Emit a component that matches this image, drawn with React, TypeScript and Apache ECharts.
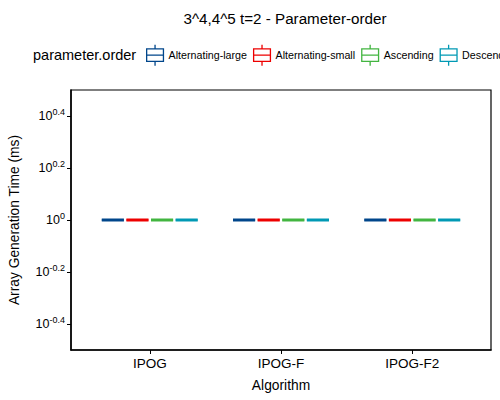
import { useEffect, useRef } from 'react';
import * as echarts from 'echarts';

const algorithms = ['IPOG', 'IPOG-F', 'IPOG-F2'];
const orders = ['Alternating-large', 'Alternating-small', 'Ascending', 'Descending'];
const colors = ['#00468B', '#ED0000', '#42B540', '#0099B4'];

// generation time in ms per order: [min, q1, median, q3, max] for each algorithm
const altLarge = [[1, 1, 1, 1, 1], [1, 1, 1, 1, 1], [1, 1, 1, 1, 1]];
const altSmall = [[1, 1, 1, 1, 1], [1, 1, 1, 1, 1], [1, 1, 1, 1, 1]];
const ascending = [[1, 1, 1, 1, 1], [1, 1, 1, 1, 1], [1, 1, 1, 1, 1]];
const descending = [[1, 1, 1, 1, 1], [1, 1, 1, 1, 1], [1, 1, 1, 1, 1]];
const seriesStats = [altLarge, altSmall, ascending, descending];

// log10 exponents
const yTickExps = [-0.4, -0.2, 0, 0.2, 0.4];
const yMinExp = -0.5;
const yMaxExp = 0.5;
const xTicks = [0, 1, 2];

const FONT = 'Liberation Sans, Arial, sans-serif';
const boxIcon = 'path://M0,0 L0,4 M-8,4 L8,4 L8,16 L-8,16 Z M-8,10 L8,10 M0,16 L0,20';

export default function App() {
  const chartRef = useRef<HTMLDivElement>(null);

  useEffect(() => {
    if (!chartRef.current) return;
    const chart = echarts.init(chartRef.current, null, { renderer: 'svg' });
    const n = orders.length;

    const series = orders.map((name, s) => ({
      name,
      type: 'custom',
      itemStyle: { color: colors[s] },
      encode: { x: 0, y: [1, 2, 3, 4, 5] },
      data: seriesStats[s].map((st, i) => [i, ...st.map((v) => Math.log10(v))]),
      renderItem: (_params: any, api: any) => {
        const cat = api.value(0);
        const center = api.coord([cat, 0])[0];
        const unit = api.size([1, 0])[0];
        const slot = (unit * 0.75) / n;
        const half = (slot * 0.9) / 2;
        const x = center + (s - (n - 1) / 2) * slot;
        const y = [1, 2, 3, 4, 5].map((k) => api.coord([cat, api.value(k)])[1]);
        const stroke = { stroke: colors[s], lineWidth: 1.2 };
        return {
          type: 'group',
          children: [
            { type: 'line', shape: { x1: x, y1: y[0], x2: x, y2: y[1] }, style: stroke },
            { type: 'line', shape: { x1: x, y1: y[3], x2: x, y2: y[4] }, style: stroke },
            {
              type: 'rect',
              shape: { x: x - half, y: y[3], width: half * 2, height: y[1] - y[3] },
              style: { fill: '#fff', ...stroke },
            },
            {
              type: 'line',
              shape: { x1: x - half, y1: y[2], x2: x + half, y2: y[2] },
              style: { stroke: colors[s], lineWidth: 3 },
            },
          ],
        };
      },
    }));

    chart.setOption({
      animation: false,
      textStyle: { fontFamily: FONT },
      title: [
        {
          text: '3^4,4^5 t=2 - Parameter-order',
          left: 280,
          textAlign: 'center',
          top: 6,
          textStyle: { fontSize: 15.2, fontWeight: 'normal', color: '#000', fontFamily: FONT },
        },
        {
          text: 'parameter.order',
          left: 28,
          top: 42,
          textStyle: { fontSize: 14.5, fontWeight: 'normal', color: '#000', fontFamily: FONT },
        },
      ],
      legend: {
        left: 146,
        top: 44,
        width: 700,
        padding: 0,
        itemWidth: 17,
        itemHeight: 21,
        itemGap: 6,
        textStyle: { fontSize: 10.7, color: '#000', fontFamily: FONT },
        data: orders.map((name, s) => ({
          name,
          icon: boxIcon,
          itemStyle: { color: '#fff', borderColor: colors[s], borderWidth: 1.3 },
        })),
      },
      grid: {
        left: 71,
        right: 9,
        top: 90,
        bottom: 50,
        containLabel: false,
        outerBoundsMode: 'none',
        show: true,
        borderColor: '#000',
        borderWidth: 1.2,
      },
      xAxis: {
        type: 'value',
        min: -0.6,
        max: 2.6,
        name: 'Algorithm',
        nameLocation: 'middle',
        nameGap: 28,
        nameTextStyle: { fontSize: 13.8, color: '#000' },
        splitLine: { show: false },
        axisLine: { onZero: false, lineStyle: { color: '#000', width: 1.5 } },
        axisTick: { show: true, length: 4, customValues: xTicks, lineStyle: { color: '#000' } },
        axisLabel: {
          customValues: xTicks,
          fontSize: 13.5,
          color: '#000',
          margin: 6,
          formatter: (v: number) => algorithms[Math.round(v)] ?? '',
        },
      },
      yAxis: {
        type: 'value',
        min: yMinExp,
        max: yMaxExp,
        name: 'Array Generation Time (ms)',
        nameLocation: 'middle',
        nameGap: 50,
        nameTextStyle: { fontSize: 13.8, color: '#000' },
        splitLine: { show: false },
        axisLine: { show: true, onZero: false, lineStyle: { color: '#000', width: 1.5 } },
        axisTick: { show: true, length: 4, customValues: yTickExps, lineStyle: { color: '#000' } },
        axisLabel: {
          customValues: yTickExps,
          margin: 6,
          color: '#000',
          formatter: (v: number) => `{b|10}{s|${Math.round(v * 10) / 10}}`,
          rich: {
            b: { fontSize: 12.5, color: '#000', fontFamily: FONT },
            s: { fontSize: 9, color: '#000', fontFamily: FONT, padding: [0, 0, 8, 0] },
          },
        },
      },
      series,
    });

    return () => chart.dispose();
  }, []);

  return (
    <div
      ref={chartRef}
      style={{ position: 'absolute', left: 0, top: 0, width: 500, height: 400, background: '#fff' }}
    />
  );
}
